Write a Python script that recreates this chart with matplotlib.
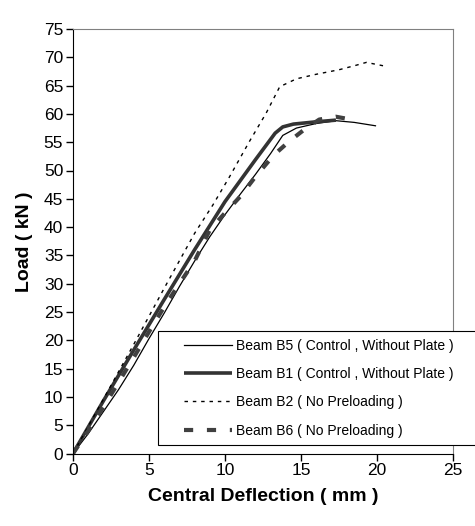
import matplotlib
matplotlib.use('Agg')
import matplotlib.pyplot as plt
from matplotlib.legend_handler import HandlerLine2D

plt.rcParams['font.family'] = ['Liberation Sans', 'DejaVu Sans']

# Beam B5 (control, without plate) - thin solid
b5_x = [0, 1, 2, 3, 4, 5, 6, 7, 8, 9, 10, 11, 12, 13, 13.8, 14.7, 16, 17.3, 18.5, 19.9]
b5_y = [0, 3.5, 7.4, 11.3, 15.6, 20.3, 24.8, 29.5, 34, 38.3, 42.2, 45.8, 49.3, 53, 56.2, 57.5, 58.3, 58.8, 58.5, 57.9]

# Beam B1 (control, without plate) - thick solid
b1_x = [0, 2, 4, 6, 8, 10, 12, 13.3, 13.8, 14.5, 16, 17.3]
b1_y = [0, 9.3, 18.3, 27.2, 36, 44.5, 51.9, 56.6, 57.7, 58.2, 58.6, 58.9]

# Beam B2 (no preloading) - dotted
b2_x = [0, 2, 4, 6, 8, 9.2, 10.3, 11.6, 12.7, 13.6, 14.7, 16, 17.5, 18.5, 19.3, 20.6]
b2_y = [0, 9.6, 19.3, 29.2, 38.9, 43.9, 48.9, 55.1, 60.1, 64.8, 66.2, 67.0, 67.8, 68.5, 69.1, 68.4]

# Beam B6 (no preloading) - thick dashed
b6_x = [0, 1, 2, 3, 4, 5, 6, 7, 8, 9, 10, 11, 12, 13.2, 14.2, 15.2, 16.2, 17.3, 18.7]
b6_y = [0, 4, 8.2, 12.6, 17, 21.5, 25.9, 30, 34, 39.5, 42.5, 45.4, 48.9, 52.7, 55.1, 57.2, 59.0, 59.5, 58.8]

labels = ['Beam B5 ( Control , Without Plate )',
          'Beam B1 ( Control , Without Plate )',
          'Beam B2 ( No Preloading )',
          'Beam B6 ( No Preloading )']


class ShiftedLine(HandlerLine2D):
    # excel style legend: blank space before the line sample
    def create_artists(self, legend, orig_handle, xdescent, ydescent,
                       width, height, fontsize, trans):
        shift = 0.27 * width
        return super().create_artists(legend, orig_handle, xdescent - shift, ydescent,
                                      width - shift, height, fontsize, trans)


fig = plt.figure(figsize=(4.75, 5.26), dpi=100)
ax = fig.add_axes([73/475, 1 - 453.5/526, 380/475, 424.5/526])

ax.plot(b5_x, b5_y, color='black', lw=0.9, label=labels[0])
ax.plot(b1_x, b1_y, color='#333333', lw=2.6, label=labels[1], solid_capstyle='butt')
ax.plot(b2_x, b2_y, color='black', lw=1.0, dashes=(2.5, 3.5), label=labels[2])
ax.plot(b6_x, b6_y, color='#404040', lw=3.0, dashes=(2.2, 3.3), label=labels[3])

ax.set_xlim(0, 25)
ax.set_ylim(0, 75)
ax.set_xticks(range(0, 26, 5))
ax.set_yticks(range(0, 76, 5))
ax.tick_params(direction='out', length=5, width=1, pad=2, labelsize=12.5, colors='black')
ax.spines['top'].set_color('#808080')
ax.spines['right'].set_color('#808080')
ax.spines['left'].set_color('black')
ax.spines['bottom'].set_color('black')

ax.set_xlabel('Central Deflection ( mm )', fontsize=14, fontweight='bold', labelpad=7)
ax.set_ylabel('Load ( kN )', fontsize=14, fontweight='bold', labelpad=8)

leg = fig.legend(loc='upper left', bbox_to_anchor=(158/475, 1 - 331/526, 0.7, 0.0),
                 mode='expand', borderaxespad=0, fontsize=10, frameon=True,
                 fancybox=False, framealpha=1, edgecolor='black',
                 handlelength=4.8, handletextpad=0.3, labelspacing=1.03,
                 borderpad=0.55, handler_map={plt.Line2D: ShiftedLine()})
leg.get_frame().set_linewidth(0.8)

fig.savefig('out.png', dpi=100)
